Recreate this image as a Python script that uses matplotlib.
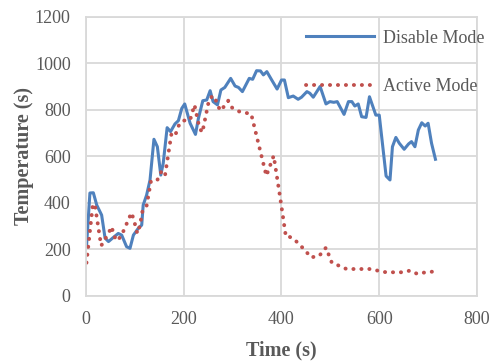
import matplotlib
matplotlib.use("Agg")
import matplotlib.pyplot as plt

plt.rcParams['font.family'] = ['Liberation Serif', 'DejaVu Serif']

# Disable Mode (blue line)
dis_t = [1, 8, 15, 22, 32, 39, 46, 56, 66, 73, 83, 90, 97, 107, 114, 117, 124, 131,
         139, 146, 153, 158, 166, 173, 182, 189, 196, 202, 213, 224, 230, 239, 247,
         254, 260, 269, 276, 284, 296, 305, 312, 320, 334, 341, 349, 357, 363, 370,
         380, 391, 400, 406, 414, 424, 434, 441, 452, 458, 465, 479, 491, 499, 507,
         514, 528, 537, 544, 550, 557, 564, 573, 580, 593, 600, 614, 622, 627, 634,
         641, 651, 660, 666, 673, 680, 687, 694, 700, 707, 715]
dis_temp = [212, 443, 444, 391, 348, 249, 234, 252, 269, 262, 212, 205, 262, 291, 305,
            391, 434, 499, 674, 642, 520, 571, 724, 707, 740, 754, 807, 826, 743, 695,
            764, 840, 843, 883, 836, 822, 886, 897, 936, 903, 897, 879, 936, 932, 969,
            968, 951, 965, 929, 890, 929, 929, 853, 860, 846, 855, 879, 872, 855, 901,
            826, 836, 833, 836, 781, 836, 836, 817, 826, 771, 768, 857, 778, 778, 516,
            499, 642, 682, 657, 631, 654, 664, 642, 714, 745, 731, 743, 657, 588]

# Active Mode (red dotted line)
act_t = [1, 14, 18, 31, 39, 53, 56, 64, 73, 93, 98, 105, 110, 116, 124, 133, 146,
         155, 158, 162, 175, 183, 188, 198, 213, 222, 232, 238, 252, 260, 269, 274,
         282, 291, 299, 314, 338, 369, 384, 397, 409, 416, 426, 449, 460, 477, 491,
         503, 518, 533, 548, 564, 581, 597, 614, 630, 646, 663, 678, 695, 711]
act_temp = [143, 394, 394, 216, 244, 298, 262, 237, 262, 358, 327, 269, 301, 370, 388,
            495, 499, 539, 523, 523, 700, 692, 728, 754, 757, 822, 724, 703, 846, 862,
            829, 797, 814, 840, 810, 793, 783, 517, 603, 427, 255, 255, 244, 195, 166,
            172, 208, 143, 130, 116, 116, 116, 116, 109, 102, 102, 102, 109, 95, 102, 105]

x_ticks = [0, 200, 400, 600, 800]
y_ticks = [0, 200, 400, 600, 800, 1000, 1200]

gray = '#595959'
fig = plt.figure(figsize=(4.92, 3.63), dpi=100)
ax = fig.add_axes([0.1748, 0.1846, 0.7947, 0.7686])

ax.plot(dis_t, dis_temp, color='#4F81BD', lw=2.2, label='Disable Mode',
        solid_joinstyle='round')
ax.plot(act_t, act_temp, color='#C0504D', lw=2.8, linestyle=(0, (0.05, 2.0)),
        dash_capstyle='round', label='Active Mode')

ax.set_xlim(0, 800)
ax.set_ylim(0, 1200)
ax.set_xticks(x_ticks)
ax.set_yticks(y_ticks)
ax.grid(True, color='#d9d9d9', lw=1.3)
ax.set_axisbelow(True)
for s in ax.spines.values():
    s.set_color('#d9d9d9')
    s.set_linewidth(1.3)
ax.tick_params(length=0, labelsize=13, colors=gray, pad=11)

ax.set_xlabel('Time (s)', fontsize=14.5, fontweight='bold', color=gray, labelpad=9)
ax.set_ylabel('Temperature (s)', fontsize=14.5, fontweight='bold', color=gray, labelpad=0.5)

leg = ax.legend(loc='upper left', bbox_to_anchor=(0.53, 1.0), frameon=False,
                fontsize=13, handlelength=3.8, labelspacing=1.75, handletextpad=0.45,
                borderaxespad=0.3)
for t in leg.get_texts():
    t.set_color(gray)

plt.savefig('out.png', dpi=100)
